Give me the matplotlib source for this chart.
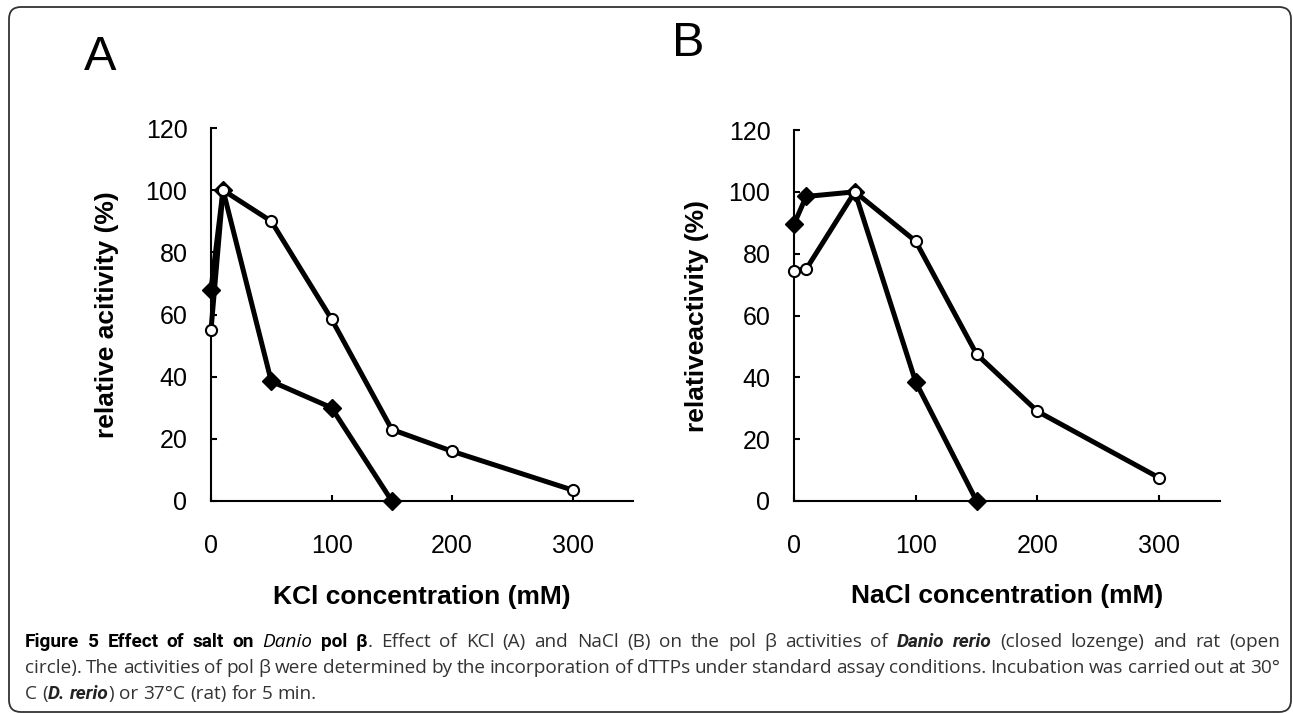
import matplotlib
matplotlib.use("Agg")
import matplotlib.pyplot as plt
from matplotlib.patches import FancyBboxPatch
from matplotlib.transforms import IdentityTransform

# salt concentrations (mM)
conc_rat = [0, 10, 50, 100, 150, 200, 300]
conc_danio = [0, 10, 50, 100, 150]

# relative activity (%) - KCl (panel A)
kcl_rat = [55, 100, 90, 58.5, 23, 16, 3.5]
kcl_danio = [68, 100, 38.5, 30, 0]

# relative activity (%) - NaCl (panel B)
nacl_rat = [74.5, 75, 100, 84, 47.5, 29, 7.5]
nacl_danio = [89.5, 98.5, 100, 38.5, 0]

xticks = [0, 100, 200, 300]
yticks = [0, 20, 40, 60, 80, 100, 120]

W, H = 1293, 713
plt.rcParams['font.family'] = ['Liberation Sans', 'DejaVu Sans']

fig = plt.figure(figsize=(W / 100, H / 100), dpi=100)


def px_axes(left, top, right, bottom):
    return fig.add_axes([left / W, 1 - bottom / H, (right - left) / W, (bottom - top) / H])


def panel(ax, danio, rat, xlabel, ylabel, ylab_x):
    ax.plot(conc_danio, danio, color='black', lw=3.6, marker='D', ms=9.5,
            mfc='black', mec='black', clip_on=False, zorder=3)
    ax.plot(conc_rat, rat, color='black', lw=3.6, marker='o', ms=8,
            mfc='white', mec='black', mew=1.5, clip_on=False, zorder=4)
    ax.set_xlim(0, 350)
    ax.set_ylim(0, 120)
    ax.set_xticks(xticks)
    ax.set_yticks(yticks)
    for s in ['top', 'right']:
        ax.spines[s].set_visible(False)
    for s in ['left', 'bottom']:
        ax.spines[s].set_linewidth(1.5)
    ax.tick_params(direction='in', length=4.5, width=1.5, labelsize=18)
    ax.tick_params(axis='x', pad=24)
    ax.tick_params(axis='y', pad=17)
    ax.set_xlabel(xlabel, fontsize=19, fontweight='bold')
    ax.set_ylabel(ylabel, fontsize=19, fontweight='bold')
    ax.xaxis.set_label_coords(0.5, -0.225)
    ax.yaxis.set_label_coords(ylab_x, 0.5)


axA = px_axes(211, 128, 633, 501)
panel(axA, kcl_danio, kcl_rat, 'KCl concentration (mM)', 'relative acitivity (%)', -0.218)
axB = px_axes(794, 130, 1220, 501)
panel(axB, nacl_danio, nacl_rat, 'NaCl concentration (mM)', 'relativeactivity (%)', -0.2)

fig.text(100 / W, 1 - 57 / H, 'A', fontsize=35, ha='center', va='center')
fig.text(688 / W, 1 - 43 / H, 'B', fontsize=35, ha='center', va='center')

# rounded frame around the whole figure
frame = FancyBboxPatch((9, 1), 1282, H - 8, boxstyle='round,pad=0,rounding_size=12',
                       transform=IdentityTransform(), fill=False, ec='#333333', lw=1.3)
fig.add_artist(frame)

# caption, justified like the journal layout
cap_size = 13.7
styles = {
    'b': dict(family='Roboto', fontweight='bold', fontstyle='normal', color='black'),
    'i': dict(family='Open Sans', fontweight='normal', fontstyle='italic', color='black'),
    'bi': dict(family='Roboto', fontweight='bold', fontstyle='italic', color='#222222'),
    'n': dict(family='Open Sans', fontweight='normal', fontstyle='normal', color='#333333'),
}
caption = [
    ([('Figure 5 Effect of salt on ', 'b'), ('Danio', 'i'), (' pol β', 'b'),
      ('. Effect of KCl (A) and NaCl (B) on the pol β activities of ', 'n'),
      ('Danio rerio', 'bi'), (' (closed lozenge) and rat (open', 'n')], True),
    ([('circle). The activities of pol β were determined by the incorporation of dTTPs '
       'under standard assay conditions. Incubation was carried out at 30°', 'n')], True),
    ([('C (', 'n'), ('D. rerio', 'bi'), (') or 37°C (rat) for 5 min.', 'n')], False),
]
baselines = [647, 673, 699]
x0, x1 = 25, 1280

renderer = fig.canvas.get_renderer()


def text_width(s, st):
    t = fig.text(0, 0, s, fontsize=cap_size, **styles[st])
    w = t.get_window_extent(renderer).width
    t.remove()
    return w


space_w = text_width('a a', 'n') - text_width('aa', 'n')

for (chunks, justify), yb in zip(caption, baselines):
    words = [[]]
    for txt, st in chunks:
        parts = txt.split(' ')
        for i, p in enumerate(parts):
            if i > 0:
                words.append([])
            if p:
                words[-1].append((p, st))
    words = [w for w in words if w]
    widths = [[text_width(p, st) for p, st in w] for w in words]
    total = sum(sum(ws) for ws in widths)
    gap = (x1 - x0 - total) / (len(words) - 1) if justify else space_w
    x = x0
    for w, ws in zip(words, widths):
        for (p, st), pw in zip(w, ws):
            fig.text(x / W, 1 - yb / H, p, fontsize=cap_size,
                     ha='left', va='baseline', **styles[st])
            x += pw
        x += gap

fig.savefig('out.png', dpi=100)
